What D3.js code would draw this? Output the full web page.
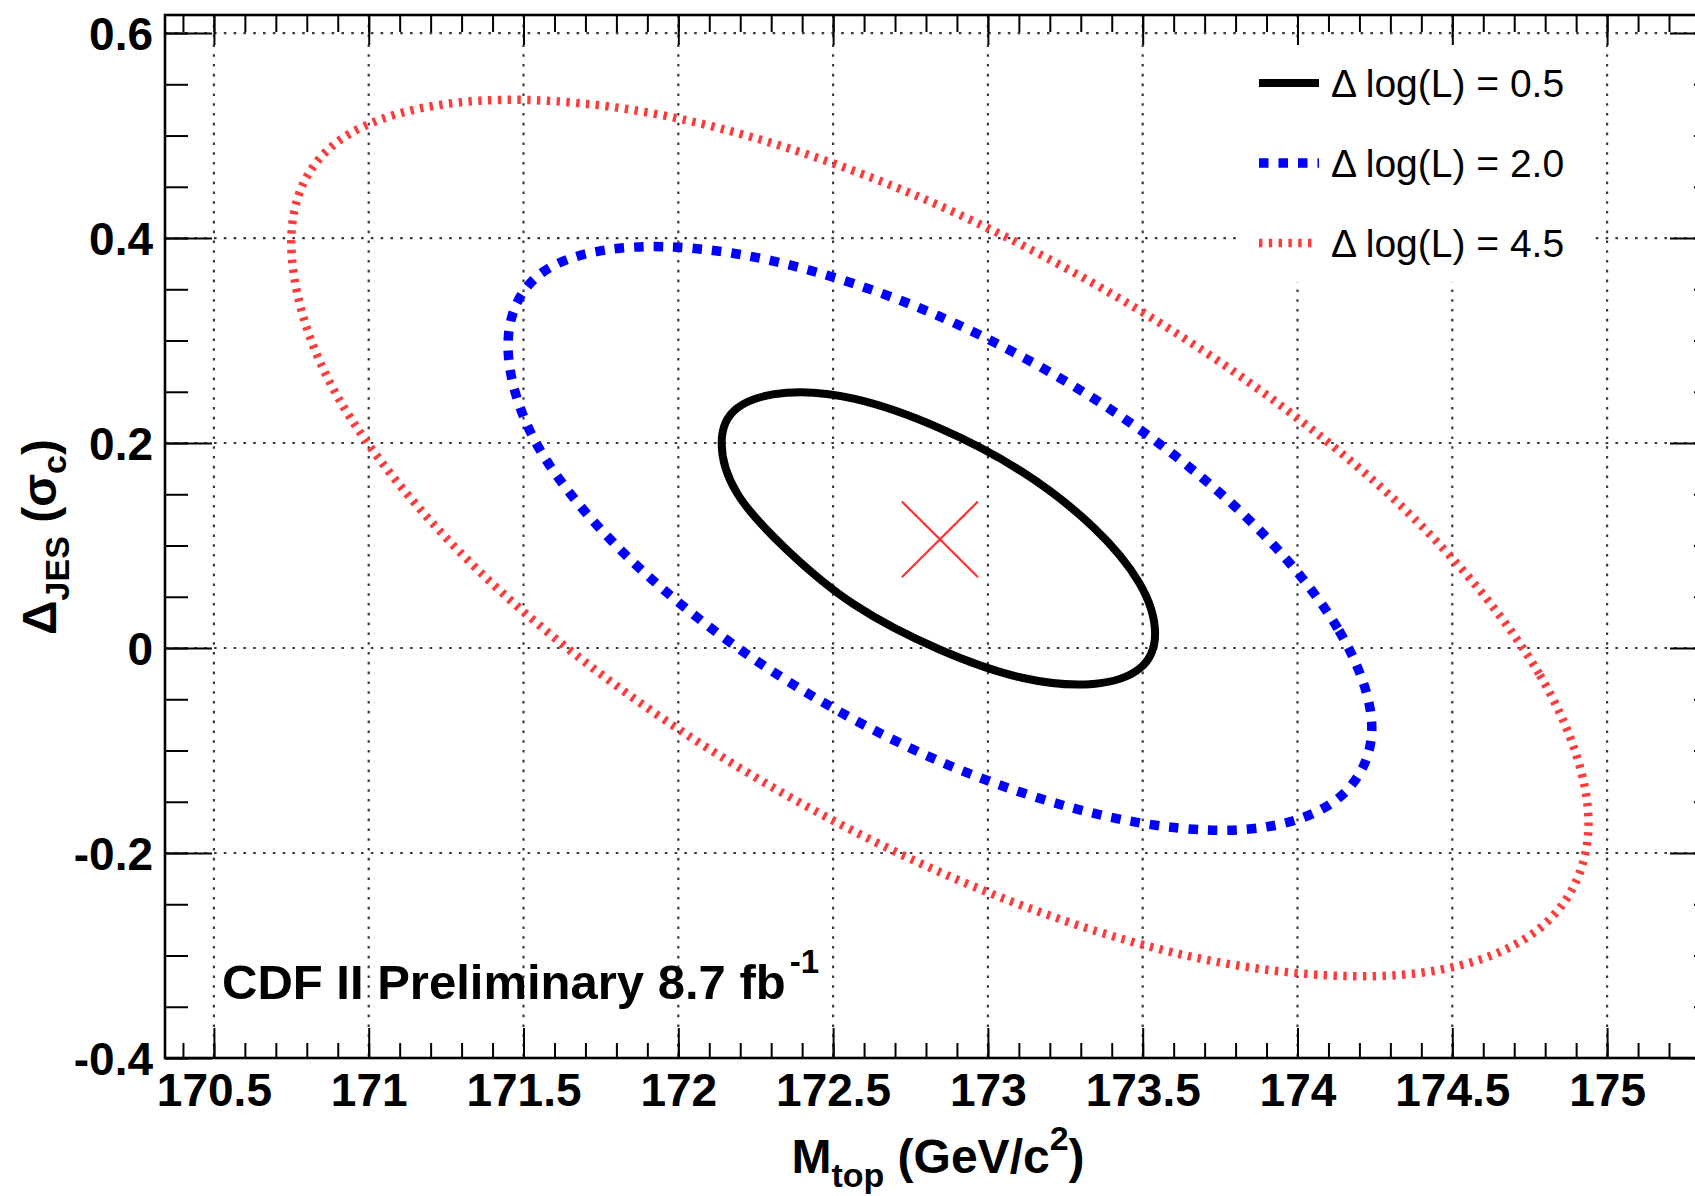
<!DOCTYPE html>
<html>
<head>
<meta charset="utf-8">
<script src="https://cdn.jsdelivr.net/npm/d3@7"></script>
<style>
  html, body { margin: 0; padding: 0; background: #fff; }
  svg { display: block; }
  text { font-family: "Liberation Sans", Arial, Helvetica, sans-serif; fill: #000; }
</style>
</head>
<body>
<svg id="chart" width="1695" height="1196"></svg>
<script>
// ---- data -------------------------------------------------------------
// tick positions
const massTicks = [170.5, 171, 171.5, 172, 172.5, 173, 173.5, 174, 174.5, 175];
const jesTicks = [-0.4, -0.2, 0, 0.2, 0.4, 0.6];

// likelihood contours, points as [M_top, Delta_JES]
const contourHalf = [
  [173.54, 0.014], [173.49, 0.063], [173.34, 0.118], [173.11, 0.172],
  [172.84, 0.215], [172.57, 0.243], [172.35, 0.249], [172.19, 0.234],
  [172.14, 0.200], [172.19, 0.151], [172.35, 0.096], [172.57, 0.042],
  [172.84, -0.001], [173.11, -0.029], [173.34, -0.035], [173.49, -0.020]
];
const contourTwo = [
  [174.24, -0.078], [174.13, 0.019], [173.83, 0.129], [173.38, 0.236],
  [172.84, 0.324], [172.30, 0.378], [171.85, 0.391], [171.55, 0.364],
  [171.45, 0.295], [171.55, 0.195], [171.85, 0.085], [172.30, -0.022],
  [172.84, -0.110], [173.38, -0.164], [173.83, -0.177], [174.13, -0.147]
];
const contourFourHalf = [
  [174.94, -0.171], [174.78, -0.025], [174.33, 0.140], [173.64, 0.301],
  [172.84, 0.432], [172.04, 0.514], [171.36, 0.534], [170.90, 0.494],
  [170.75, 0.396], [170.90, 0.245], [171.36, 0.074], [172.04, -0.087],
  [172.84, -0.218], [173.64, -0.300], [174.33, -0.319], [174.78, -0.274]
];

// best-fit point
const bestFit = [172.845, 0.106];

const legendLabels = ["\u0394 log(L) = 0.5", "\u0394 log(L) = 2.0", "\u0394 log(L) = 4.5"];

// ---- layout -----------------------------------------------------------
const svg = d3.select("#chart");
const frame = { left: 165, right: 1717, top: 15, bottom: 1058 };

const x = d3.scaleLinear().domain([170.342, 175.355]).range([frame.left, frame.right]);
const y = d3.scaleLinear().domain([-0.4, 0.6176]).range([frame.bottom, frame.top]);

const minorX = d3.range(1704, 1754).map(v => v / 10);
const minorY = d3.range(-8, 13).map(v => v / 20);
const fmt = d => String(+d.toFixed(2));

// ---- grid ---------------------------------------------------------------
const grid = svg.append("g").attr("class", "grid");
grid.selectAll("line.v").data(massTicks).join("line")
  .attr("class", "v")
  .attr("x1", d => x(d)).attr("x2", d => x(d))
  .attr("y1", frame.top).attr("y2", frame.bottom);
grid.selectAll("line.h").data(jesTicks).join("line")
  .attr("class", "h")
  .attr("x1", frame.left).attr("x2", frame.right)
  .attr("y1", d => y(d)).attr("y2", d => y(d));
grid.selectAll("line")
  .attr("stroke", "#3a3a3a").attr("stroke-width", 2.2)
  .attr("stroke-dasharray", "2.6,7.2");

// white legend box hides the grid underneath it
svg.append("rect")
  .attr("x", 1243).attr("y", 40).attr("width", 349).attr("height", 242)
  .attr("fill", "#fff");

// ---- contours -----------------------------------------------------------
const line = d3.line().x(d => x(d[0])).y(d => y(d[1])).curve(d3.curveCardinalClosed.tension(0));

const styles = [
  { data: contourHalf, color: "#000000", width: 8, dash: null },
  { data: contourTwo, color: "#0000ff", width: 9.5, dash: "9.5,10" },
  { data: contourFourHalf, color: "#ff3a3a", width: 8.5, dash: "3.4,6.4" }
];

svg.append("g").selectAll("path").data(styles).join("path")
  .attr("d", d => line(d.data))
  .attr("fill", "none")
  .attr("stroke", d => d.color)
  .attr("stroke-width", d => d.width)
  .attr("stroke-dasharray", d => d.dash);

// best-fit marker
const arm = [0.123, 0.037];
svg.append("g").selectAll("line").data([[-1, -1, 1, 1], [-1, 1, 1, -1]]).join("line")
  .attr("x1", d => x(bestFit[0] + d[0] * arm[0]))
  .attr("y1", d => y(bestFit[1] + d[1] * arm[1]))
  .attr("x2", d => x(bestFit[0] + d[2] * arm[0]))
  .attr("y2", d => y(bestFit[1] + d[3] * arm[1]))
  .attr("stroke", "#ff3030").attr("stroke-width", 2.2);

// ---- axes ---------------------------------------------------------------
function styleAxis(g) {
  g.select(".domain").remove();
  g.selectAll(".tick line").attr("stroke", "#000").attr("stroke-width", 2);
}

// left
svg.append("g").attr("transform", `translate(${frame.left},0)`)
  .call(d3.axisLeft(y).tickValues(minorY).tickSize(-23).tickFormat(""))
  .call(styleAxis);
svg.append("g").attr("transform", `translate(${frame.left},0)`)
  .call(d3.axisLeft(y).tickValues(jesTicks).tickSize(-47).tickPadding(12).tickFormat(fmt))
  .call(styleAxis)
  .call(g => g.selectAll("text")
    .attr("font-size", 46).attr("font-weight", "bold").attr("dy", "0.36em")
    .style("font-family", "'Liberation Sans', Arial, sans-serif"));

// right
svg.append("g").attr("transform", `translate(${frame.right},0)`)
  .call(d3.axisRight(y).tickValues(minorY).tickSize(-23).tickFormat(""))
  .call(styleAxis);
svg.append("g").attr("transform", `translate(${frame.right},0)`)
  .call(d3.axisRight(y).tickValues(jesTicks).tickSize(-47).tickFormat(""))
  .call(styleAxis);

// bottom
svg.append("g").attr("transform", `translate(0,${frame.bottom})`)
  .call(d3.axisBottom(x).tickValues(minorX).tickSize(-15).tickFormat(""))
  .call(styleAxis);
svg.append("g").attr("transform", `translate(0,${frame.bottom})`)
  .call(d3.axisBottom(x).tickValues(massTicks).tickSize(-30).tickPadding(15).tickFormat(fmt))
  .call(styleAxis)
  .call(g => g.selectAll("text")
    .attr("font-size", 46).attr("font-weight", "bold")
    .style("font-family", "'Liberation Sans', Arial, sans-serif"));

// top
svg.append("g").attr("transform", `translate(0,${frame.top})`)
  .call(d3.axisTop(x).tickValues(minorX).tickSize(-17).tickFormat(""))
  .call(styleAxis);
svg.append("g").attr("transform", `translate(0,${frame.top})`)
  .call(d3.axisTop(x).tickValues(massTicks).tickSize(-30).tickFormat(""))
  .call(styleAxis);

// frame
svg.append("rect")
  .attr("x", frame.left).attr("y", frame.top)
  .attr("width", frame.right - frame.left).attr("height", frame.bottom - frame.top)
  .attr("fill", "none").attr("stroke", "#000").attr("stroke-width", 2.6);

// ---- titles -------------------------------------------------------------
const xt = svg.append("text")
  .attr("x", 938).attr("y", 1173)
  .attr("text-anchor", "middle")
  .attr("font-size", 48).attr("font-weight", "bold");
xt.append("tspan").text("M");
xt.append("tspan").attr("font-size", 34).attr("dy", 14).text("top");
xt.append("tspan").attr("dy", -14).text(" (GeV/c");
xt.append("tspan").attr("font-size", 34).attr("dy", -23).text("2");
xt.append("tspan").attr("dy", 23).text(")");

const yt = svg.append("text")
  .attr("transform", "translate(56,537) rotate(-90)")
  .attr("text-anchor", "middle")
  .attr("font-size", 48).attr("font-weight", "bold");
yt.append("tspan").text("\u0394");
yt.append("tspan").attr("font-size", 34).attr("dy", 13).text("JES");
yt.append("tspan").attr("dy", -13).text(" (\u03c3");
yt.append("tspan").attr("font-size", 34).attr("dy", 10).text("c");
yt.append("tspan").attr("dy", -10).text(")");

// experiment label
const lab = svg.append("text")
  .attr("x", 222).attr("y", 999)
  .attr("font-size", 49).attr("font-weight", "bold");
lab.append("tspan").text("CDF II Preliminary 8.7 fb");
lab.append("tspan").attr("font-size", 33).attr("dx", 4).attr("dy", -26).text("-1");

// ---- legend ---------------------------------------------------------------
const legendRows = [83, 163, 243];
const lg = svg.append("g").selectAll("g").data(styles).join("g")
  .attr("transform", (d, i) => `translate(0,${legendRows[i]})`);
lg.append("line")
  .attr("x1", 1259).attr("x2", (d, i) => i === 2 ? 1314 : 1319)
  .attr("y1", 0).attr("y2", 0)
  .attr("stroke", d => d.color)
  .attr("stroke-width", d => d.width)
  .attr("stroke-dasharray", d => d.dash);
lg.append("text")
  .attr("x", 1331).attr("y", 14)
  .attr("font-size", 39)
  .text((d, i) => legendLabels[i]);
</script>
</body>
</html>
